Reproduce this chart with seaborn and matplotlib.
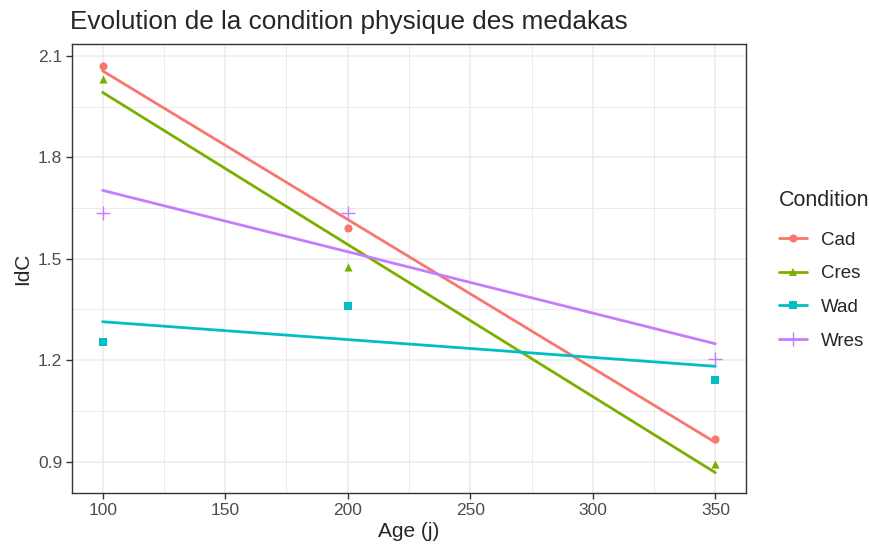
import matplotlib
matplotlib.use("Agg")
import matplotlib.pyplot as plt
import seaborn as sns
import pandas as pd
from matplotlib.lines import Line2D
from matplotlib.ticker import MultipleLocator

ages = [100, 200, 350]
conditions = ["Cad", "Cres", "Wad", "Wres"]
cad = [2.071, 1.590, 0.967]
cres = [2.032, 1.475, 0.894]
wad = [1.254, 1.360, 1.142]
wres = [1.634, 1.634, 1.203]
colors = ["#F8766D", "#7CAE00", "#00BFC4", "#C77CFF"]
markers = ["o", "^", "s", "+"]

values = {"Cad": cad, "Cres": cres, "Wad": wad, "Wres": wres}
rows = []
for c in conditions:
    for a, v in zip(ages, values[c]):
        rows.append({"Age": a, "IdC": v, "Condition": c})
df = pd.DataFrame(rows)

sns.set_style("white")
plt.rcParams['font.family'] = ['Liberation Sans', 'DejaVu Sans']

fig = plt.figure(figsize=(8.69, 5.51), dpi=100)
ax = fig.add_axes([72/869, 1-493/551, (746-72)/869, (493-44)/551])

for c, col, m in zip(conditions, colors, markers):
    sub = df[df.Condition == c]
    sns.regplot(data=sub, x="Age", y="IdC", ax=ax, ci=None, truncate=True,
                scatter=False, color=col, line_kws={"lw": 2.0, "zorder": 3})
    if m == "+":
        ax.scatter(sub.Age, sub.IdC, marker=m, s=100, color=col, linewidths=1.0, zorder=4)
    else:
        ax.scatter(sub.Age, sub.IdC, marker=m, s=34, color=col, linewidths=0, zorder=4)

ax.set_xlim(87.5, 362.5)
ax.set_ylim(0.807, 2.135)
ax.set_xticks([100, 150, 200, 250, 300, 350])
ax.set_yticks([0.9, 1.2, 1.5, 1.8, 2.1])
ax.set_yticklabels(["0.9", "1.2", "1.5", "1.8", "2.1"])
ax.xaxis.set_minor_locator(MultipleLocator(25))
ax.yaxis.set_minor_locator(MultipleLocator(0.15))
ax.grid(True, which="major", color="#EBEBEB", lw=1.1, zorder=0)
ax.grid(True, which="minor", color="#EBEBEB", lw=0.7, zorder=0)
ax.set_axisbelow(True)
for s in ax.spines.values():
    s.set_color("#333333")
    s.set_linewidth(1.0)
ax.tick_params(which="major", direction="out", length=4, width=1, color="#333333",
               labelsize=12.5, labelcolor="#4D4D4D", pad=3, bottom=True, left=True)
ax.tick_params(which="minor", length=0)
ax.set_xlabel("Age (j)", fontsize=15, labelpad=3)
ax.set_ylabel("IdC", fontsize=15, labelpad=4)
fig.text(70/869, 1-29/551, "Evolution de la condition physique des medakas",
         fontsize=18.8, ha="left", va="baseline")

handles = []
for c, col, m in zip(conditions, colors, markers):
    if m == "+":
        h = Line2D([], [], color=col, lw=2.0, marker=m, markersize=10, markeredgewidth=1.0)
    else:
        h = Line2D([], [], color=col, lw=2.0, marker=m, markersize=5.8, markeredgewidth=0)
    handles.append(h)
leg = fig.legend(handles, conditions, title="Condition", loc="upper left",
                 bbox_to_anchor=(779/869, 1-190/551), frameon=False, fontsize=13.5,
                 title_fontsize=15.5, handlelength=1.5, labelspacing=0.88,
                 handletextpad=0.75, borderaxespad=0, borderpad=0)
leg._legend_box.align = "left"
leg._legend_box.sep = 0.88 * 13.5 + 3.0

fig.savefig("out.png", dpi=100)
